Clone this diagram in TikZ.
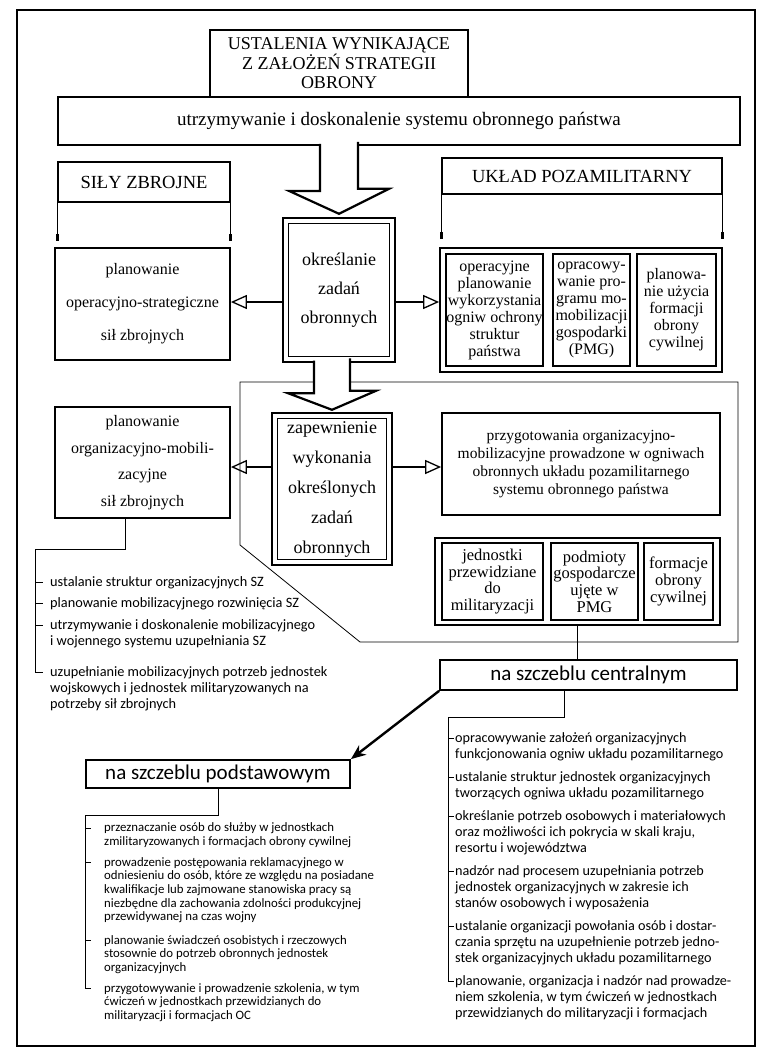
\documentclass[tikz,border=0pt]{standalone}
\usepackage{fontspec}
\setmainfont{Liberation Serif}
\newfontfamily\listfont{Carlito}
\usetikzlibrary{arrows.meta,
	calc,
	positioning}
\newcommand{\fsz}[2]{\fontsize{#1}{#2}\selectfont}
\tikzstyle{bx}=[draw, line width=1.8pt, fill=white, align=center, inner sep=0pt]
\tikzstyle{sub}=[draw, line width=1.1pt, align=center, inner sep=0pt]
\tikzstyle{dbl}=[draw, line width=2.4pt, fill=white, align=center, inner sep=0pt]
\tikzstyle{leg}=[line width=1pt, -{Rectangle[length=7pt,width=3pt]}]
\tikzstyle{arr}=[line width=1.8pt, -{Triangle[open,length=16pt,width=14pt,line width=1.3pt]}]
\tikzstyle{blk}=[line width=2.2pt, fill=white, line join=miter]
\tikzstyle{brk}=[line width=0.8pt]
% base west = baseline of the last line
\tikzstyle{itm}=[anchor=base west, align=left, inner sep=0pt]

\begin{document}
\begin{tikzpicture}[x=1pt,y=-1pt]
\useasboundingbox (0,0) rectangle (760,1051);
\draw[line width=1.3pt] (17,10) rectangle (755,1046);
% thin frame round the lower right part
\draw[brk] (240,382) -- (738,382) -- (738,642) -- (360,642) -- (240,545) -- cycle;

% top
\node[bx, minimum width=682pt, minimum height=48pt, font=\fsz{19}{22}] (utrz) at (399,121)
	{utrzymywanie i doskonalenie systemu obronnego państwa};
\node[bx, minimum width=258pt, minimum height=67pt, font=\fsz{18}{19.5}] (ustal) at (339,63.5)
	{USTALENIA WYNIKAJĄCE\\Z ZAŁOŻEŃ STRATEGII\\OBRONY};

% headers
\node[bx, minimum width=172pt, minimum height=40pt, font=\fsz{18.5}{20}] (sily) at (144,182) {SIŁY ZBROJNE};
\node[bx, minimum width=280pt, minimum height=36pt, font=\fsz{18.5}{20}] (ukl) at (582,176) {UKŁAD POZAMILITARNY};
\draw[leg] (sily.south west) -- ++(0,38);
\draw[leg] (sily.south east) -- ++(0,38);
\draw[leg] (ukl.south west) -- ++(0,44);
\draw[leg] (ukl.south east) -- ++(0,44);

% first row
\node[bx, minimum width=175pt, minimum height=112pt, font=\fsz{16}{33}] (plop) at (142.5,304)
	{planowanie\\operacyjno-strategiczne\\sił zbrojnych};
\node[dbl, minimum width=112pt, minimum height=144pt, font=\fsz{18}{29}] (okr) at (339,290)
	{określanie\\zadań\\obronnych};
\draw[line width=0.9pt] ($(okr.north west)+(7,7)$) rectangle ($(okr.south east)+(-7,-7)$);
\node[bx, minimum width=282pt, minimum height=124pt] (uc) at (581,310) {};
\node[sub, minimum width=97pt, minimum height=112pt, font=\fsz{16}{17}] (u1) at (494.5,310)
	{operacyjne\\planowanie\\wykorzystania\\ogniw ochrony\\struktur\\państwa};
\node[sub, minimum width=77pt, minimum height=112pt, font=\fsz{16}{17}] (u2) at (591.5,310)
	{opracowy-\\wanie pro-\\gramu mo-\\mobilizacji\\gospodarki\\(PMG)};
\node[sub, minimum width=79pt, minimum height=112pt, font=\fsz{16}{17}] (u3) at (676.5,310)
	{planowa-\\nie użycia\\formacji\\obrony\\cywilnej};

% second row
\node[bx, minimum width=175pt, minimum height=111pt, font=\fsz{16}{26.5}] (plorg) at (142.5,462.5)
	{planowanie\\organizacyjno-mobili-\\zacyjne\\sił zbrojnych};
\node[dbl, minimum width=120pt, minimum height=152pt, font=\fsz{18}{30}] (zap) at (332,489)
	{zapewnienie\\wykonania\\określonych\\zadań\\obronnych};
\draw[line width=0.9pt] ($(zap.north west)+(7,7)$) rectangle ($(zap.south east)+(-7,-7)$);
\node[bx, minimum width=278pt, minimum height=102pt, font=\fsz{15.5}{18}] (przyg) at (581,464)
	{przygotowania organizacyjno-\\mobilizacyjne prowadzone w ogniwach\\obronnych układu pozamilitarnego\\systemu obronnego państwa};
\node[bx, minimum width=285pt, minimum height=87pt] (jc) at (577.5,581.5) {};
\node[sub, minimum width=101pt, minimum height=77pt, font=\fsz{16.5}{16.7}] (j1) at (492.5,581.5)
	{jednostki\\przewidziane\\do\\militaryzacji};
\node[sub, minimum width=87pt, minimum height=77pt, font=\fsz{16.5}{16.7}] (j2) at (594.5,581.5)
	{podmioty\\gospodarcze\\ujęte w\\PMG};
\node[sub, minimum width=69pt, minimum height=77pt, font=\fsz{16.5}{16.7}] (j3) at (678.5,581.5)
	{formacje\\obrony\\cywilnej};

% levels
\node[bx, minimum width=297pt, minimum height=30pt, font=\listfont\fsz{21}{24}] (cen) at (588.5,675) {na szczeblu centralnym};
\node[bx, minimum width=264pt, minimum height=28pt, font=\listfont\fsz{21}{24}] (pod) at (218,774) {na szczeblu podstawowym};

% arrows
\draw[blk] ($(okr.north |- utrz.south)+(-19,-2)$) -- ++(0,47) -- ++(-31,0)
	-- ($(okr.north)+(0,-3)$) -- ++(50,-25) -- ++(-31,0) -- ++(0,-47);
\draw[blk] ($(zap.north |- okr.south)+(-18,-2.5)$) -- ++(0,32.5) -- ++(-26,0)
	-- ($(zap.north)+(0,-2)$) -- ++(44,-19) -- ++(-26,0) -- ++(0,-32.5);
\draw[arr] ([yshift=-12pt]okr.west) -- ([yshift=-12pt]okr.west -| plop.east);
\draw[arr] ([yshift=-12pt]okr.east) -- ([yshift=-12pt]okr.east -| uc.west);
\draw[arr] ([yshift=22pt]zap.west) -- ([yshift=22pt]zap.west -| plorg.east);
\draw[arr] ([yshift=22pt]zap.east) -- ([yshift=22pt]zap.east -| przyg.west);
\draw[line width=1.8pt] (jc.south) -- (jc.south |- cen.north);
\draw[line width=2.4pt, -{Stealth[length=15pt,width=12pt]}] (cen.south west) -- (pod.north east);

% lists
\draw[brk] ([xshift=-17pt]plorg.south) |- (35,549) -- (35,672);
\foreach \y in {582,603,625,672} \draw[brk] (35,\y) -- ++(8,0);
\node[itm, font=\listfont\fsz{14.3}{16}] (l1) at (50,586) {ustalanie struktur organizacyjnych SZ};
\node[itm, font=\listfont\fsz{14.3}{16}] (l2) at (50,607) {planowanie mobilizacyjnego rozwinięcia SZ};
\node[itm, font=\listfont\fsz{14.3}{16}] (l3) at (50,645) {utrzymywanie i doskonalenie mobilizacyjnego\\i wojennego systemu uzupełniania SZ};
\node[itm, font=\listfont\fsz{14.3}{16}] (l4) at (50,708) {uzupełnianie mobilizacyjnych potrzeb jednostek\\wojskowych i jednostek militaryzowanych na\\potrzeby sił zbrojnych};

\draw[brk] (pod.south) |- (85,815) -- (85,988);
\foreach \y in {828,862,940,988} \draw[brk] (85,\y) -- ++(6,0);
\node[itm, font=\listfont\fsz{12.8}{13.7}] (b1) at (104,845.5) {przeznaczanie osób do służby w jednostkach\\zmilitaryzowanych i formacjach obrony cywilnej};
\node[itm, font=\listfont\fsz{12.8}{13.7}] (b2) at (104,920.8) {prowadzenie postępowania reklamacyjnego w\\odniesieniu do osób, które ze względu na posiadane\\kwalifikacje lub zajmowane stanowiska pracy są\\niezbędne dla zachowania zdolności produkcyjnej\\przewidywanej na czas wojny};
\node[itm, font=\listfont\fsz{12.8}{13.7}] (b3) at (104,971.4) {planowanie świadczeń osobistych i rzeczowych\\stosownie do potrzeb obronnych jednostek\\organizacyjnych};
\node[itm, font=\listfont\fsz{12.8}{13.7}] (b4) at (104,1019.4) {przygotowywanie i prowadzenie szkolenia, w tym\\ćwiczeń w jednostkach przewidzianych do\\militaryzacji i formacjach OC};

\draw[brk] ([xshift=-24pt]cen.south) |- (448,717) -- (448,981);
\foreach \y in {738,777,816,871,926,981} \draw[brk] (448,\y) -- ++(6,0);
\node[itm, font=\listfont\fsz{14.2}{16}] (r1) at (455,758) {opracowywanie założeń organizacyjnych\\funkcjonowania ogniw układu pozamilitarnego};
\node[itm, font=\listfont\fsz{14.2}{16}] (r2) at (455,797) {ustalanie struktur jednostek organizacyjnych\\tworzących ogniwa układu pozamilitarnego};
\node[itm, font=\listfont\fsz{14.2}{16}] (r3) at (455,852) {określanie potrzeb osobowych i materiałowych\\oraz możliwości ich pokrycia w skali kraju,\\resortu i województwa};
\node[itm, font=\listfont\fsz{14.2}{16}] (r4) at (455,907) {nadzór nad procesem uzupełniania potrzeb\\jednostek organizacyjnych w zakresie ich\\stanów osobowych i wyposażenia};
\node[itm, font=\listfont\fsz{14.2}{16}] (r5) at (455,962) {ustalanie organizacji powołania osób i dostar-\\czania sprzętu na uzupełnienie potrzeb jedno-\\stek organizacyjnych układu pozamilitarnego};
\node[itm, font=\listfont\fsz{14.2}{16}] (r6) at (455,1017) {planowanie, organizacja i nadzór nad prowadze-\\niem szkolenia, w tym ćwiczeń w jednostkach\\przewidzianych do militaryzacji i formacjach};
\end{tikzpicture}
\end{document}
